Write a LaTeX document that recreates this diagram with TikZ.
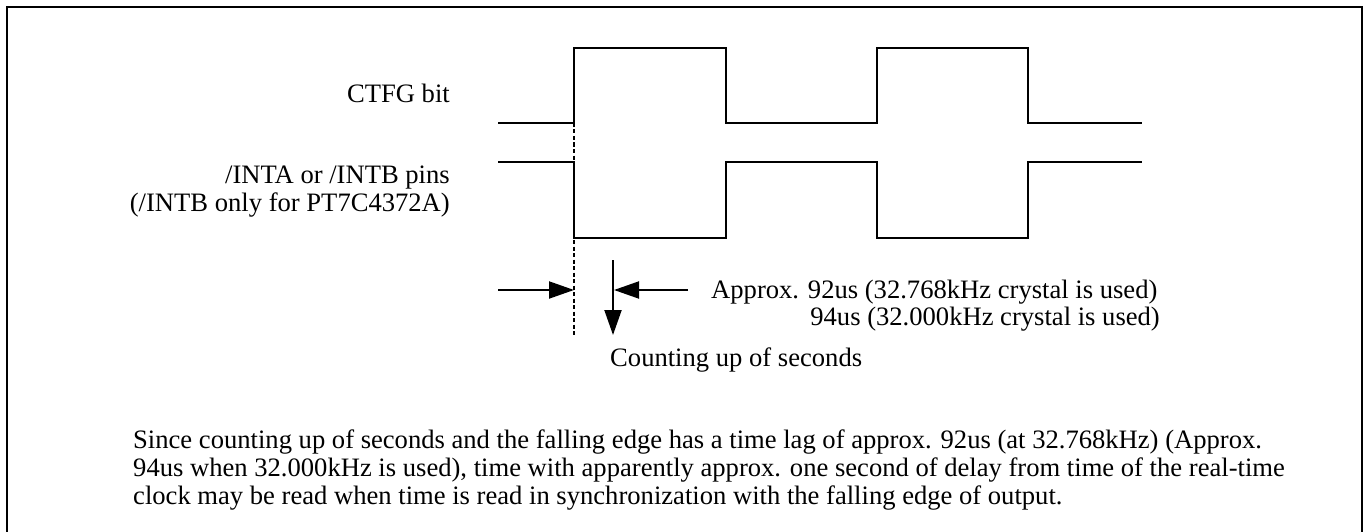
\documentclass[tikz,border=0pt]{standalone}
\usepackage{fontspec}
\setmainfont{Liberation Serif}
\usetikzlibrary{arrows.meta}
\begin{document}
\begin{tikzpicture}[x=1pt,y=-1pt,
  frame/.style={line width=2pt},
  wave/.style={line width=2pt},
  lbl/.style={inner sep=0pt, font=\fontsize{26.6}{28}\selectfont},
  arr/.style={line width=2pt,-{Triangle[length=25pt,width=17pt]}},
  guide/.style={line width=1.3pt, dash pattern=on 4pt off 2.5pt}]
\useasboundingbox (0,0) rectangle (1370,532);
\draw[frame] (7,533) -- (7,7) -- (1362,7) -- (1362,533);

% labels
\node[lbl, anchor=base east] (ctfg) at (450,103) {CTFG bit};
\node[lbl, anchor=base east] (inta1) at (450,183) {/INTA or /INTB pins};
\node[lbl, anchor=base east] (inta2) at (450,211) {(/INTB only for PT7C4372A)};

% waveforms
\draw[wave] (498,123) -- (574,123) -- (574,48) -- (726,48) -- (726,123) -- (877,123) -- (877,48) -- (1028,48) -- (1028,123) -- (1142,123);
\draw[wave] (498,162) -- (574,162) -- (574,238) -- (726,238) -- (726,162) -- (877,162) -- (877,238) -- (1028,238) -- (1028,162) -- (1142,162);

% timing marks
\coordinate (dtop) at (574,123);
\coordinate (dbot) at (574,335);
\draw[guide] (dtop) -- (dbot);
\coordinate (a1s) at (498,290);
\coordinate (a1e) at (574,290);
\draw[arr] (a1s) -- (a1e);
\coordinate (a2s) at (688,290);
\coordinate (a2e) at (614,290);
\draw[arr] (a2s) -- (a2e);
\coordinate (cs) at (613,260);
\coordinate (ce) at (613,335);
\draw[arr] (cs) -- (ce);

\node[lbl, anchor=base west] (approx) at (711,298) {Approx. 92us (32.768kHz crystal is used)};
\node[lbl, anchor=base east] (us94) at (1160,325) {94us (32.000kHz crystal is used)};
\node[lbl, anchor=base west] (count) at (610,366) {Counting up of seconds};

% note
\node[lbl, anchor=base west] (p1) at (133,448) {Since counting up of seconds and the falling edge has a time lag of approx. 92us (at 32.768kHz) (Approx.};
\node[lbl, anchor=base west] (p2) at (133,476) {94us when 32.000kHz is used), time with apparently approx. one second of delay from time of the real-time};
\node[lbl, anchor=base west] (p3) at (133,504) {clock may be read when time is read in synchronization with the falling edge of output.};
\end{tikzpicture}
\end{document}
